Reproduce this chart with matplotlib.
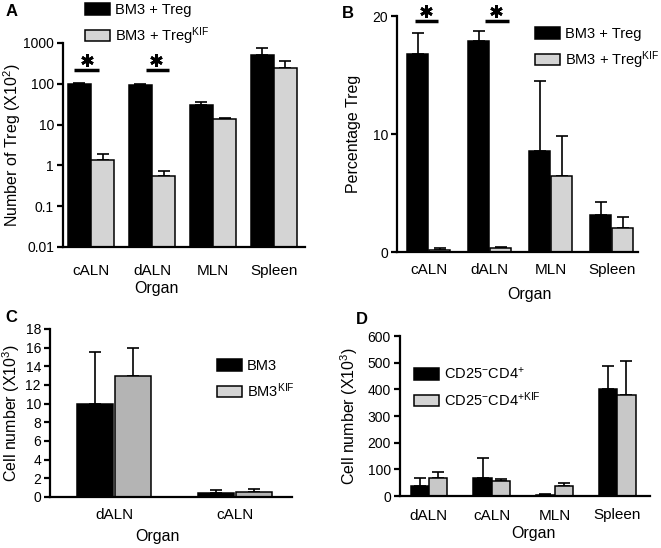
import numpy as np
import matplotlib
matplotlib.use("Agg")
import matplotlib.pyplot as plt
from matplotlib.patches import Patch
from matplotlib.ticker import NullLocator

plt.rcParams['font.family'] = 'Liberation Sans'
plt.rcParams['mathtext.default'] = 'regular'

# ---- data ----
organs_ab = ['cALN', 'dALN', 'MLN', 'Spleen']
a_treg = [100, 95, 30, 510]
a_treg_err = [105, 100, 36, 740]          # top of error bar
a_kif = [1.35, 0.55, 13.5, 240]
a_kif_err = [1.9, 0.72, 14.8, 370]

b_treg = [16.8, 17.9, 8.6, 3.1]
b_treg_err = [18.6, 18.75, 14.5, 4.2]
b_kif = [0.2, 0.3, 6.4, 2.0]
b_kif_err = [0.35, 0.45, 9.85, 3.0]

organs_c = ['dALN', 'cALN']
c_bm3 = [10.0, 0.45]
c_bm3_err = [15.5, 0.7]
c_kif = [13.0, 0.55]
c_kif_err = [16.0, 0.85]

organs_d = ['dALN', 'cALN', 'MLN', 'Spleen']
d_cd4 = [36, 69, 4, 400]
d_cd4_err = [66, 142, 6, 486]
d_kif = [67, 55, 38, 380]
d_kif_err = [90, 63, 48, 508]

W, H = 661, 548
fig = plt.figure(figsize=(W / 100, H / 100), dpi=100)

LIGHT = '#d4d4d4'


def px_axes(l, t, r, b):
    return fig.add_axes([l / W, 1 - b / H, (r - l) / W, (b - t) / H])


def style(ax, xpad):
    for s in ['top', 'right']:
        ax.spines[s].set_visible(False)
    for s in ['left', 'bottom']:
        ax.spines[s].set_linewidth(1.6)
    ax.tick_params(axis='y', direction='out', length=4.5, width=1.6, labelsize=10, pad=2)
    ax.tick_params(axis='x', length=0, labelsize=11, pad=xpad)


def bars(ax, x, off, width, v1, e1, v2, e2, c2):
    ax.bar(x - off, v1, width, color='black', edgecolor='black', linewidth=1.1, zorder=2)
    ax.bar(x + off, v2, width, color=c2, edgecolor='black', linewidth=1.1, zorder=2)
    for xx, v, e in [(x - off, v1, e1), (x + off, v2, e2)]:
        v = np.array(v)
        ax.errorbar(xx, v, yerr=[np.zeros_like(v), np.array(e) - v], fmt='none',
                    ecolor='black', elinewidth=1.2, capsize=4, capthick=1.2, zorder=1)


def labels_px(ax, box, ylab_x, xlab_x, xlab_top):
    l, t, r, b = box
    ax.yaxis.set_label_coords((ylab_x + 8 - l) / (r - l), 0.5)
    ax.xaxis.set_label_coords((xlab_x - l) / (r - l), -(xlab_top - b) / (b - t))


def legend(ax, handles, names, x, y):
    ax.legend(handles, names, loc='upper left', bbox_to_anchor=(x / W, 1 - y / H),
              bbox_transform=fig.transFigure, frameon=False, borderpad=0,
              borderaxespad=0, handlelength=1.7, handleheight=0.85,
              handletextpad=0.35, labelspacing=0.55, fontsize=10.5)


def sig(ax, x0, x1, yline, xstar, ystar):
    ax.plot([x0, x1], [yline, yline], color='black', lw=2.5, clip_on=False,
            solid_capstyle='butt')
    ax.plot([xstar], [ystar], marker=(6, 2, 0), color='black', markersize=9,
            markeredgewidth=2.0, clip_on=False)


# ---- panel A ----
boxA = (63, 43, 305, 247)
axA = px_axes(*boxA)
xa = np.arange(len(organs_ab))
bars(axA, xa, 0.19, 0.37, a_treg, a_treg_err, a_kif, a_kif_err, LIGHT)
axA.set_yscale('log')
axA.set_ylim(0.01, 1000)
axA.set_yticks([0.01, 0.1, 1, 10, 100, 1000])
axA.set_yticklabels(['0.01', '0.1', '1', '10', '100', '1000'])
axA.yaxis.set_minor_locator(NullLocator())
axA.set_xlim(-0.46, 3.51)
axA.set_xticks(xa)
axA.set_xticklabels(organs_ab)
style(axA, 12)
axA.set_ylabel('Number of Treg (X10$^{2}$)', fontsize=11.5)
axA.set_xlabel('Organ', fontsize=11.5)
labels_px(axA, boxA, 15, 156, 281)
sig(axA, -0.28, 0.13, 218, -0.07, 380)
sig(axA, 0.90, 1.28, 218, 1.06, 380)
legend(axA, [Patch(facecolor='black', edgecolor='black', lw=1.1),
             Patch(facecolor=LIGHT, edgecolor='black', lw=1.1)],
       ['BM3 + Treg', 'BM3 + Treg$^{KIF}$'], 85, 3)
fig.text(12 / W, 1 - 12 / H, 'A', fontsize=12, fontweight='bold', ha='center', va='center')

# ---- panel B ----
boxB = (397, 16, 638, 252)
axB = px_axes(*boxB)
bars(axB, xa, 0.18, 0.35, b_treg, b_treg_err, b_kif, b_kif_err, LIGHT)
axB.set_ylim(0, 20)
axB.set_yticks([0, 10, 20])
axB.set_xlim(-0.52, 3.43)
axB.set_xticks(xa)
axB.set_xticklabels(organs_ab)
style(axB, 8)
axB.set_ylabel('Percentage Treg', fontsize=11.5)
axB.set_xlabel('Organ', fontsize=11.5)
labels_px(axB, boxB, 353, 529, 287)
sig(axB, -0.23, 0.16, 19.6, -0.04, 20.4)
sig(axB, 0.92, 1.31, 19.6, 1.11, 20.4)
legend(axB, [Patch(facecolor='black', edgecolor='black', lw=1.1),
             Patch(facecolor=LIGHT, edgecolor='black', lw=1.1)],
       ['BM3 + Treg', 'BM3 + Treg$^{KIF}$'], 535, 27)
fig.text(348 / W, 1 - 13 / H, 'B', fontsize=12, fontweight='bold', ha='center', va='center')

# ---- panel C ----
boxC = (50, 329, 292, 497)
axC = px_axes(*boxC)
xc = np.arange(len(organs_c))
bars(axC, xc, 0.156, 0.30, c_bm3, c_bm3_err, c_kif, c_kif_err, '#b4b4b4')
axC.set_ylim(0, 18)
axC.set_yticks(np.arange(0, 19, 2))
axC.set_xlim(-0.53, 1.47)
axC.set_xticks(xc)
axC.set_xticklabels(organs_c)
style(axC, 8)
axC.set_ylabel('Cell number (X10$^{3}$)', fontsize=11.5)
axC.set_xlabel('Organ', fontsize=11.5)
labels_px(axC, boxC, 14, 157, 529)
legend(axC, [Patch(facecolor='black', edgecolor='black', lw=1.1),
             Patch(facecolor=LIGHT, edgecolor='black', lw=1.1)],
       ['BM3', 'BM3$^{KIF}$'], 217, 359)
fig.text(11 / W, 1 - 317 / H, 'C', fontsize=12, fontweight='bold', ha='center', va='center')

# ---- panel D ----
boxD = (400, 336, 650, 496)
axD = px_axes(*boxD)
xd = np.arange(len(organs_d))
bars(axD, xd, 0.145, 0.29, d_cd4, d_cd4_err, d_kif, d_kif_err, '#c8c8c8')
axD.set_ylim(0, 600)
axD.set_yticks(np.arange(0, 601, 100))
axD.set_xlim(-0.46, 3.52)
axD.set_xticks(xd)
axD.set_xticklabels(organs_d)
style(axD, 9)
axD.set_ylabel('Cell number (X10$^{3}$)', fontsize=11.5)
axD.set_xlabel('Organ', fontsize=11.5)
labels_px(axD, boxD, 352, 533, 526)
legend(axD, [Patch(facecolor='black', edgecolor='black', lw=1.1),
             Patch(facecolor=LIGHT, edgecolor='black', lw=1.1)],
       ['CD25$^{-}$CD4$^{+}$', 'CD25$^{-}$CD4$^{+KIF}$'], 414, 366)
fig.text(362 / W, 1 - 319 / H, 'D', fontsize=12, fontweight='bold', ha='center', va='center')

fig.savefig('out.png', dpi=100)
